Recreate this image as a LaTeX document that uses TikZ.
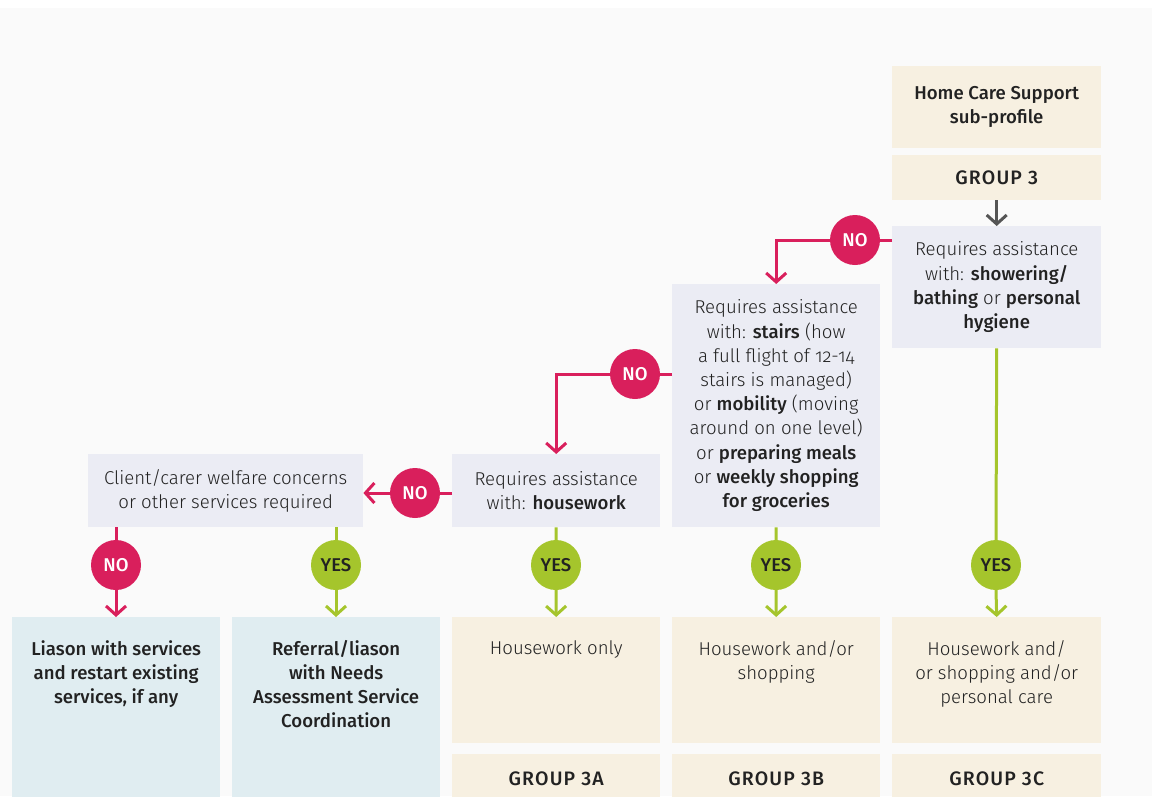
\documentclass[tikz,border=0pt]{standalone}
\usepackage{fontspec}
\setmainfont{Fira Sans}[UprightFont=* Light, BoldFont=* Medium]
\usetikzlibrary{arrows.meta}

\definecolor{crimson}{HTML}{D91F5C}
\definecolor{lime}{HTML}{A5C52C}
\definecolor{sand}{HTML}{F7F0E1}
\definecolor{lav}{HTML}{EBECF4}
\definecolor{ice}{HTML}{E0EDF1}
\definecolor{ink}{HTML}{222222}
\definecolor{paper}{HTML}{FAFAFA}
\definecolor{arrowgrey}{HTML}{555555}

\newcommand{\bodysize}{\fontsize{18.6}{24.2}\selectfont}

\tikzset{
  box/.style={rectangle, inner sep=0pt, anchor=north west, text=ink, align=center,
              font=\bodysize},
  sandbox/.style={box, fill=sand},
  lavbox/.style={box, fill=lav},
  icebox/.style={box, fill=ice},
  caption/.style={inner sep=0pt, anchor=north, text=ink, align=center, font=\bodysize},
  grouplabel/.style={font=\fontsize{19.5}{22}\selectfont\bfseries\addfontfeature{LetterSpace=6}},
  bubble/.style={circle, minimum size=50pt, inner sep=0pt,
                 font=\fontsize{18.5}{18.5}\selectfont\bfseries},
  nobubble/.style={bubble, fill=crimson, text=white},
  yesbubble/.style={bubble, fill=lime, text=ink},
  noline/.style={draw=crimson, line width=3pt},
  yesline/.style={draw=lime, line width=3pt},
  chevron/.style={-{Straight Barb[length=9pt, width=20pt]}},
}

\begin{document}
\begin{tikzpicture}[x=1pt, y=-1pt]
  % page and backdrop
  \useasboundingbox (0,0) rectangle (1152,796);
  \fill[white] (0,0) rectangle (1152,796);
  \fill[paper] (0,8) rectangle (1152,796);

  % top of the tree
  \node[sandbox, minimum width=209pt, minimum height=82pt, font=\bodysize\bfseries]
    (profile) at (892,66) {Home Care Support\\sub-profile};
  \node[sandbox, minimum width=209pt, minimum height=45pt, grouplabel]
    (group3) at (892,155) {GROUP 3};

  % questions
  \node[lavbox, minimum width=209pt, minimum height=122pt]
    (hygiene) at (892,226) {Requires assistance\\with: \textbf{showering/}\\\textbf{bathing} or \textbf{personal}\\\textbf{hygiene}};
  \node[lavbox, minimum width=208pt, minimum height=243pt]
    (stairs) at (672,284) {Requires assistance\\with: \textbf{stairs} (how\\a full flight of {\addfontfeature{Numbers=OldStyle}12-14}\\stairs is managed)\\or \textbf{mobility} (moving\\around on one level)\\or \textbf{preparing meals}\\or \textbf{weekly shopping}\\\textbf{for groceries}};
  \node[lavbox, minimum width=208pt, minimum height=73pt]
    (housework) at (452,454) {Requires assistance\\with: \textbf{housework}};
  \node[lavbox, minimum width=275pt, minimum height=73pt]
    (welfare) at (88,454) {Client/carer welfare concerns\\or other services required};

  % outcomes
  \node[icebox, minimum width=208pt, minimum height=190pt] (liaise) at (12,617) {};
  \node[caption, font=\bodysize\bfseries] (liaisetext)
    at ([yshift=-23pt]liaise.north) {Liason with services\\and restart existing\\services, if any};
  \node[icebox, minimum width=208pt, minimum height=190pt] (referral) at (232,617) {};
  \node[caption, font=\bodysize\bfseries] (referraltext)
    at ([yshift=-23pt]referral.north) {Referral/liason\\with Needs\\Assessment Service\\Coordination};

  \node[sandbox, minimum width=208pt, minimum height=126pt] (careA) at (452,617) {};
  \node[caption] (careAtext) at ([yshift=-23pt]careA.north) {Housework only};
  \node[sandbox, minimum width=208pt, minimum height=126pt] (careB) at (672,617) {};
  \node[caption] (careBtext) at ([yshift=-23pt]careB.north) {Housework and/or\\shopping};
  \node[sandbox, minimum width=209pt, minimum height=126pt] (careC) at (892,617) {};
  \node[caption] (careCtext) at ([yshift=-23pt]careC.north) {Housework and/\\or shopping and/or\\personal care};

  \node[sandbox, minimum width=208pt, minimum height=50pt, grouplabel] (group3A) at (452,754) {GROUP 3A};
  \node[sandbox, minimum width=208pt, minimum height=50pt, grouplabel] (group3B) at (672,754) {GROUP 3B};
  \node[sandbox, minimum width=209pt, minimum height=50pt, grouplabel] (group3C) at (892,754) {GROUP 3C};

  % decision bubbles
  \node[nobubble]  (noHygiene)   at (855,240) {NO};
  \node[nobubble]  (noStairs)    at (635,374) {NO};
  \node[nobubble]  (noHousework) at (415,493) {NO};
  \node[nobubble]  (noWelfare)   at (116,565) {NO};
  \node[yesbubble] (yesWelfare)  at (336,565) {YES};
  \node[yesbubble] (yesHousework) at (556,565) {YES};
  \node[yesbubble] (yesStairs)   at (776,565) {YES};
  \node[yesbubble] (yesHygiene)  at (996,565) {YES};

  % connectors
  \draw[draw=arrowgrey, line width=3pt, chevron] (group3.south) -- (hygiene.north);

  \draw[noline] (hygiene.west |- noHygiene) -- (noHygiene.east);
  \draw[noline, chevron] (noHygiene.west) -| (stairs.north);
  \draw[noline] (stairs.west |- noStairs) -- (noStairs.east);
  \draw[noline, chevron] (noStairs.west) -| (housework.north);
  \draw[noline] (housework.west |- noHousework) -- (noHousework.east);
  \draw[noline, chevron] (noHousework.west) -- (welfare.east |- noHousework);

  \draw[noline] (welfare.south -| noWelfare) -- (noWelfare.north);
  \draw[noline, chevron] (noWelfare.south) -- (liaise.north -| noWelfare);
  \draw[yesline] (welfare.south -| yesWelfare) -- (yesWelfare.north);
  \draw[yesline, chevron] (yesWelfare.south) -- (referral.north -| yesWelfare);

  \draw[yesline] (housework.south) -- (yesHousework.north);
  \draw[yesline, chevron] (yesHousework.south) -- (careA.north);
  \draw[yesline] (stairs.south) -- (yesStairs.north);
  \draw[yesline, chevron] (yesStairs.south) -- (careB.north);
  \draw[yesline] (hygiene.south) -- (yesHygiene.north);
  \draw[yesline, chevron] (yesHygiene.south) -- (careC.north);
\end{tikzpicture}
\end{document}
